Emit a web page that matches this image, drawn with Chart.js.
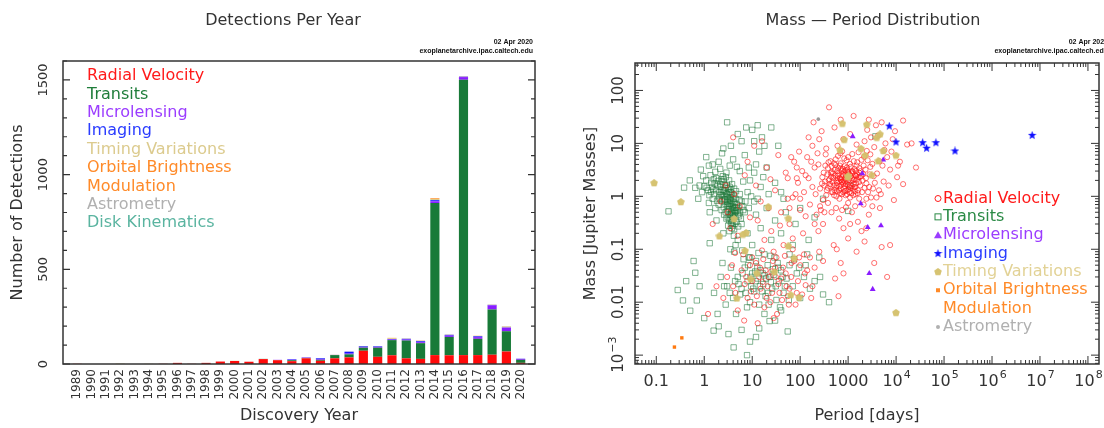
<!DOCTYPE html>
<html>
<head>
<meta charset="utf-8">
<script src="https://cdn.jsdelivr.net/npm/chart.js@4"></script>
<style>
  body { margin: 0; background: #fff; }
  .box { position: absolute; top: 0; width: 552px; height: 428px; }
  .box--left { left: 0; }
  .box--right { left: 552px; }
</style>
</head>
<body>
<div class="box box--left"><canvas id="yearChart" width="552" height="428"></canvas></div>
<div class="box box--right"><canvas id="massChart" width="552" height="428"></canvas></div>
<script>
// detections per year
const years = [1989,1990,1991,1992,1993,1994,1995,1996,1997,1998,1999,2000,2001,2002,2003,2004,
  2005,2006,2007,2008,2009,2010,2011,2012,2013,2014,2015,2016,2017,2018,2019,2020];
const radialVelocity = [1,0,0,0,0,0,1,6,1,6,13,16,12,26,20,15,30,17,30,35,70,38,46,30,27,47,46,47,47,49,66,6];
const transits = [0,0,0,0,0,0,0,0,0,0,0,0,0,1,1,5,2,5,17,16,16,48,80,94,83,803,97,1454,86,239,107,16];
const microlensing = [0,0,0,0,0,0,0,0,0,0,0,0,0,0,1,2,2,4,1,4,3,4,3,5,5,9,7,14,9,22,19,5];
const imaging = [0,0,0,0,0,0,0,0,0,0,0,0,0,0,0,3,1,4,0,10,4,3,3,4,5,6,4,2,4,2,1,1];
const timingVariations = [0,0,0,2,0,1,0,0,0,0,0,1,0,0,0,0,0,0,1,1,2,1,4,2,2,6,2,1,2,2,3,0];
const orbitalBrightness = [0,0,0,0,0,0,0,0,0,0,0,0,0,0,0,0,0,0,0,0,0,0,2,0,1,4,0,1,1,0,1,0];
const astrometry = [0,0,0,0,0,0,0,0,0,0,0,0,0,0,0,0,0,0,0,0,0,0,0,0,1,0,0,0,0,0,1,0];
const diskKinematics = [0,0,0,0,0,0,0,0,0,0,0,0,0,0,0,0,0,0,0,0,0,0,0,0,0,0,0,0,0,0,1,0];
const countTicks = [0, 500, 1000, 1500];

// mass - period, [period days, mass Mjup]
const rvPoints = [
  [320,1.6],[410,2.1],[520,1.3],[640,2.6],[760,1.9],[880,3.1],[1050,1.5],[1200,2.2],[1420,1.1],[1700,2.8],
  [380,3.4],[450,1.2],[590,1.8],[700,4.2],[820,1.4],[960,2.4],[1130,3.6],[1300,1.7],[1600,1.3],[2000,2.0],
  [290,2.3],[350,1.05],[480,2.7],[550,5.0],[680,1.15],[730,3.0],[900,1.7],[1000,5.5],[1250,2.9],[1550,4.4],
  [260,1.4],[430,4.6],[600,2.2],[790,2.5],[870,1.25],[1150,1.95],[1350,3.3],[1800,1.6],[2300,3.2],[2600,1.2],
  [340,6.2],[500,1.6],[620,3.4],[750,7.1],[980,2.9],[1100,0.95],[1480,2.4],[1900,4.9],[2200,1.45],[650,1.55],
  [395,2.0],[460,2.9],[570,1.0],[710,2.05],[840,3.7],[1020,1.35],[1220,6.3],[1700,0.9],[2800,2.6],[3200,4.1],
  [300,0.85],[420,1.7],[540,3.9],[660,0.9],[800,1.75],[930,4.8],[1380,1.25],[1650,6.8],[2450,7.2],[3600,1.8],
  [240,4.0],[370,2.6],[610,2.45],[690,6.5],[1080,2.6],[1280,1.05],[1520,2.05],[2050,2.65],[3000,0.95],[470,1.9],
  [330,1.9],[440,2.35],[560,1.45],[720,1.65],[850,2.15],[950,1.1],[1180,1.55],[1450,3.0],[1750,2.3],[2150,5.6],
  [310,2.8],[360,1.3],[390,4.4],[425,1.55],[455,3.7],[490,2.2],[510,1.05],[530,3.2],[565,2.0],[585,1.25],
  [615,5.8],[635,1.9],[670,3.8],[695,1.4],[725,2.3],[745,1.1],[775,3.3],[810,2.0],[830,5.2],[860,1.55],
  [890,2.6],[920,1.3],[945,3.5],[970,1.9],[1010,2.8],[1060,1.2],[1090,4.1],[1140,2.4],[1170,1.15],[1210,3.0],
  [1260,2.0],[1310,4.6],[1360,1.5],[1400,2.5],[1460,1.75],[1500,3.8],[1580,1.15],[1630,2.3],[1720,3.4],[1850,2.4],
  [1950,1.2],[2100,3.8],[2350,2.2],[2550,4.8],[2750,1.5],[285,1.75],[335,3.8],[375,1.45],[435,2.75],[475,1.2],
  [505,4.2],[545,2.45],[575,1.6],[605,3.0],[645,1.3],[675,2.2],[705,3.3],[735,1.85],[765,2.6],[795,1.2],
  [825,2.9],[855,1.9],[885,1.05],[915,2.2],[965,3.2],[995,1.65],[1040,2.05],[1120,1.45],[1190,2.7],[1240,1.4],
  [1330,2.1],[1410,1.5],[1560,2.6],[1680,1.85],[1820,3.0],[2400,1.75],[2900,3.6],[3400,2.4],[4400,1.3],[5500,1.9],
  [400,48],[520,20],[250,12],[1100,15],[2200,11],[3500,8.5],[4200,14],[6000,10],[8000,7],[9500,17],
  [180,9],[140,5.5],[110,3],[90,1.8],[160,0.7],[220,0.45],[300,0.3],[450,0.5],[650,0.38],[900,0.62],
  [1200,0.5],[1600,0.33],[2100,0.7],[2700,0.45],[3300,1.4],[4000,2.7],[5200,3.8],[7000,1.6],[4600,0.6],[6500,5.5],
  [12000,4.5],[3800,22],[2500,18],[1500,9.5],[800,12],[600,9],[350,8],[200,3.5],[120,1.2],[75,4.5],
  [70,0.95],[55,2.2],[1900,0.22],[800,0.25],[3000,13],[5000,25],[7500,3.2],[10500,2.3],[14000,27],[17000,9.5],
  [21000,10],[26000,3.5],[11000,3.8],[14000,1.7],[9000,0.85],[280,17],[700,28],[1300,33],[2700,28],[190,25],
  [8500,12],[5700,7.5],[4500,4.6],[3900,0.95],[2900,6.2],[150,13],[95,7],[60,0.6],[130,0.42],[240,0.22],
  [150,2.2],[170,4.5],[210,1.1],[230,6.5],[260,0.65],[180,1.5],[130,2.5],[100,0.9],[85,3.5],[200,0.3],
  [270,0.55],[320,0.5],[380,0.75],[560,0.6],[750,0.55],[1000,0.75],[1400,0.65],[2400,0.9],[3200,0.65],[4800,1.1],
  [3.1,0.5],[4.2,1.1],[3.5,0.25],[5.5,0.65],[7,2.5],[9,0.4],[12,1.6],[15,0.8],[20,3.5],[25,0.22],
  [30,1.3],[40,0.5],[50,2.8],[45,0.12],[60,0.3],[35,6],[18,0.15],[28,0.09],[10,0.07],[70,0.16],
  [2.2,0.8],[1.5,0.3],[2.8,1.6],[5,0.18],[6.5,0.08],[8,4.5],[11,9],[4,13],[16,11],[24,2.1],
  [80,1.1],[100,0.55],[115,0.2],[38,0.28],[55,0.9],[13,0.35],[22,0.6],[65,5.5],[85,2.2],[32,0.07],
  [3,0.03],[4.5,0.015],[6,0.04],[8,0.012],[10,0.025],[12,0.055],[15,0.018],[18,0.008],[22,0.03],[26,0.015],
  [30,0.045],[35,0.022],[42,0.011],[50,0.035],[60,0.018],[75,0.06],[90,0.025],[110,0.014],[140,0.04],[180,0.02],
  [5,0.007],[7,0.022],[9,0.05],[11,0.009],[14,0.03],[17,0.065],[20,0.012],[25,0.038],[33,0.006],[40,0.028],
  [48,0.075],[55,0.013],[65,0.03],[80,0.009],[100,0.05],[130,0.021],[160,0.07],[200,0.045],[250,0.09],[2.5,0.012],
  [3.8,0.05],[1.8,0.02],[1.2,0.006],[6.8,0.0045],[13,0.004],[28,0.005],[4.4,0.085],[16,0.095],[70,0.1],[120,0.08],
  [7.5,0.03],[9.5,0.016],[12.5,0.013],[14.5,0.045],[16.5,0.024],[19,0.04],[21,0.02],[24,0.01],[27,0.06],[31,0.03],
  [37,0.015],[44,0.045],[52,0.02],[58,0.009],[66,0.055],[85,0.015],[95,0.07],[125,0.035],[170,0.012],[4,0.02],
  [300,0.06],[500,0.12],[700,0.055],[1000,0.16],[1500,0.09],[2200,0.14],[3500,0.055],[5000,0.11],[6500,0.03],[800,0.035],
  [580,0.1],[7500,0.12],[535,0.028],[630,0.013],[1100,0.3],[2400,0.25]
];
const transitPoints = [
  [2.5,1.0],[3.0,0.8],[3.5,1.2],[4.0,0.6],[2.2,1.5],[2.8,0.5],[3.3,2.0],[4.5,0.9],[5.0,0.45],[3.8,1.7],
  [2.0,0.7],[2.6,1.3],[3.1,0.4],[3.6,0.95],[4.2,1.4],[1.6,1.1],[1.8,2.2],[2.3,0.55],[2.9,2.8],[5.5,1.1],
  [3.2,0.65],[3.7,0.5],[4.8,0.7],[2.4,1.9],[2.1,1.2],[3.4,1.5],[4.1,1.05],[1.4,1.8],[1.5,0.9],[2.7,0.85],
  [3.9,0.35],[4.4,0.48],[5.2,0.6],[6.0,0.8],[1.2,1.3],[1.35,2.5],[1.9,1.6],[2.05,0.95],[3.05,1.1],[3.55,0.72],
  [4.6,1.25],[5.8,0.38],[6.5,0.55],[3.15,0.28],[3.75,0.25],[4.3,0.3],[2.55,0.62],[2.95,1.65],[1.7,2.9],[2.15,3.3],
  [1.1,2.0],[1.0,1.55],[0.9,1.2],[0.95,2.4],[1.25,0.75],[3.45,0.85],[3.65,1.35],[4.05,0.78],[2.35,1.05],[2.75,1.45],
  [3.25,0.58],[3.85,0.42],[4.7,0.33],[5.4,0.85],[2.45,2.4],[1.55,1.35],[1.85,0.82],[3.35,0.22],[4.15,0.18],[5.1,0.27],
  [2.52,1.22],[2.62,0.88],[2.88,1.12],[3.02,0.68],[3.12,1.42],[3.22,0.92],[3.28,1.22],[3.38,0.72],[3.48,1.05],[3.58,0.58],
  [3.68,0.82],[3.78,1.12],[3.92,0.66],[4.02,0.9],[4.22,0.55],[4.32,0.75],[4.52,0.62],[2.32,0.82],[2.42,1.32],[2.12,0.88],
  [2.22,1.08],[2.68,1.62],[2.78,0.72],[2.98,0.98],[3.08,0.52],[3.18,0.78],[3.42,0.45],[3.52,0.38],[3.62,0.45],[3.72,0.32],
  [3.82,0.55],[3.95,0.48],[4.08,0.4],[4.25,0.42],[4.38,0.62],[4.55,0.52],[4.85,0.55],[5.3,0.42],[1.75,1.3],[1.95,1.95],
  [2.18,1.7],[2.28,2.1],[2.58,2.1],[2.82,2.3],[1.45,1.5],[1.65,1.75],[1.28,1.05],[1.12,1.45],[1.38,1.22],[1.58,2.1],
  [3.3,0.35],[3.6,0.3],[3.9,0.28],[4.2,0.24],[2.9,0.38],[2.6,0.45],[5.6,0.5],[6.2,0.65],[7.2,0.8],[8.5,0.6],
  [3.0,25],[2.5,8],[4,5],[5.5,3],[7,6],[9,2],[12,4],[15,1.5],[18,9],[25,20],
  [10,18],[6,11],[8,1.2],[11,2.8],[20,3.5],[30,1.8],[14,7],[2,4.5],[1.5,4],[0.8,1.6],
  [0.65,1.45],[0.5,2],[1.1,5.5],[35,9],[40,1.2],[22,1.1],[16,13],[7.5,20],[4.8,3.6],[6.5,1.9],
  [9.5,1.0],[13,0.9],[17,2.3],[5,15],[3.6,9],[0.18,0.52],[0.38,1.46],
  [1.3,0.5],[1.7,0.6],[0.75,0.9],[0.85,3.2],[1.25,3.8],[2.35,6.5],[3.4,3.8],[8.5,3.5],[11,11],[13,22],
  [5,0.15],[6,0.3],[7,0.5],[8,0.2],[10,0.12],[12,0.45],[15,0.25],[20,0.6],[25,0.15],[30,0.35],
  [40,0.2],[50,0.5],[60,0.08],[80,0.3],[100,0.6],[150,0.15],[200,0.4],[300,0.9],[18,0.08],[9,0.07],
  [3.5,0.1],[4.5,0.12],[2.5,0.2],[1.8,0.35],[1.3,0.13],[11,0.8],[45,0.9],[70,0.12],[130,0.05],[250,0.07],
  [3,0.02],[4,0.012],[5,0.03],[6,0.018],[7,0.045],[8,0.025],[9,0.01],[10,0.035],[11,0.016],[12,0.06],
  [13,0.028],[14,0.009],[15,0.04],[17,0.022],[19,0.013],[21,0.05],[23,0.03],[26,0.018],[29,0.07],[32,0.011],
  [36,0.025],[40,0.04],[45,0.015],[52,0.028],[60,0.05],[70,0.02],[85,0.035],[100,0.012],[120,0.03],[160,0.018],
  [2.2,0.03],[2.8,0.009],[3.6,0.045],[4.6,0.006],[5.6,0.014],[6.6,0.065],[7.8,0.008],[9.5,0.02],[11.5,0.038],[13.5,0.085],
  [16,0.016],[18,0.032],[22,0.009],[27,0.042],[34,0.055],[38,0.008],[48,0.02],[58,0.011],[75,0.065],[95,0.045],
  [5.2,0.022],[6.3,0.035],[7.3,0.015],[8.2,0.05],[9.2,0.03],[10.5,0.018],[11.8,0.025],[12.8,0.045],[14.5,0.02],[16.5,0.035],
  [19.5,0.028],[21.5,0.015],[24.5,0.024],[28,0.033],[31,0.02],[35,0.045],[43,0.03],[4.4,0.025],[3.4,0.015],[2.6,0.02],
  [1.6,0.015],[1.9,0.006],[2.4,0.055],[8.5,0.07],[24,0.075],[4.2,0.09],[6.2,0.095],[140,0.08],[200,0.025],[300,0.014],
  [0.28,0.017],[0.36,0.0108],[0.51,0.0069],[0.65,0.036],[0.7,0.0108],[1.57,0.0029],[4.1,0.0014],[7.8,0.001],[23,0.0044],[2,0.0035],
  [3.2,0.0025],[6,0.003],[12,0.0022],[18,0.006],[30,0.0045],[55,0.0028],[1,0.005],[0.8,0.02],[0.6,0.06],[0.42,0.025],
  [400,0.01],[260,0.03],[9,0.0018],[14,0.0032],[40,0.007],[1100,1.6],[3700,13.6],[1000,0.53]
];
const microPoints = [[1245,13.5],[5400,4.9],[1970,2.7],[1830,0.73],[2560,0.26],[4840,0.28],[2760,0.035],[3250,0.0176]];
const imagingPoints = [[7210,21.2],[9950,10.6],[35800,10.3],[43300,8.1],[67700,10.3],[168600,7.2],[6870000,14.2]];
const timingPoints = [
  [0.09,1.78],[0.325,0.78],[4.19,0.373],[2.07,0.176],[6.36,0.189],[7.46,0.203],[21.7,0.63],[56.7,0.38],
  [757,23.5],[832,11.7],[677,7.4],[980,2.31],[7.1,0.093],[56.7,0.114],[74.6,0.067],[12.5,0.035],
  [9.3,0.027],[29,0.037],[4.77,0.0118],[63.6,0.0136],[94.8,0.0122],[2440,22.5],[4620,14.8],[1855,7.9],
  [5400,7.2],[9940,5.9],[4250,4.6],[2250,5.9],[1010,2.4],[3100,2.5],[3940,12.8],[9940,0.0063]
];
const brightnessPoints = [[0.341,0.00212],[0.239,0.00142]];
const astrometryPoints = [[239,28.7]];
const periodDecades = [-1,0,1,2,3,4,5,6,7,8];
const massDecades = [2,1,0,-1,-2,-3];

const ink = '#333';
const font = 'DejaVu Sans';

function shapeCanvas(kind, size, color) {
  const c = document.createElement('canvas');
  c.width = size; c.height = size;
  const g = c.getContext('2d');
  const r = size / 2;
  const n = kind === 'star' ? 10 : 5;
  g.fillStyle = color;
  g.beginPath();
  for (let i = 0; i < n; i++) {
    const a = -Math.PI / 2 + i * 2 * Math.PI / n;
    const rr = kind === 'star' && i % 2 ? r * 0.42 : r;
    g.lineTo(r + rr * Math.cos(a), r + rr * Math.sin(a));
  }
  g.closePath();
  g.fill();
  return c;
}

const starIcon = shapeCanvas('star', 9, '#1010ff');
const pentaIcon = shapeCanvas('penta', 8, 'rgba(212,192,105,0.95)');

function rotText(ctx, txt, x, y, align) {
  ctx.save();
  ctx.translate(x, y);
  ctx.rotate(-Math.PI / 2);
  ctx.textAlign = align || 'center';
  ctx.fillText(txt, 0, 0);
  ctx.restore();
}

function stampText(ctx, right) {
  ctx.fillStyle = '#111';
  ctx.font = 'bold 7px Liberation Sans';
  ctx.textAlign = 'right';
  ctx.textBaseline = 'middle';
  ctx.fillText('02 Apr 2020', right, 42);
  ctx.fillText('exoplanetarchive.ipac.caltech.edu', right, 51);
}

// left chart: stacked bars
const barSets = [
  ['Radial Velocity', radialVelocity, '#ff0a0a', '#ff1a1a'],
  ['Transits', transits, '#187a38', '#1f7d3a'],
  ['Microlensing', microlensing, '#8a1cff', '#9b3cff'],
  ['Imaging', imaging, '#1414ff', '#2a3cff'],
  ['Timing Variations', timingVariations, '#d8c785', '#dccb8e'],
  ['Orbital Brightness', orbitalBrightness, '#ff8a1e', '#ff8a28'],
  ['Modulation', null, null, '#ff8a28'],
  ['Astrometry', astrometry, '#b4b4b4', '#b0b0b0'],
  ['Disk Kinematics', diskKinematics, '#55b49c', '#5ab4a0'],
];

const yearFrame = {
  id: 'yearFrame',
  afterDraw(chart) {
    const ctx = chart.ctx;
    const a = chart.chartArea;
    const ys = chart.scales.y;
    const xs = chart.scales.x;
    ctx.save();
    ctx.strokeStyle = ink;
    ctx.lineWidth = 1.5;
    ctx.strokeRect(a.left, a.top, a.right - a.left, a.bottom - a.top);
    ctx.lineWidth = 1.2;
    for (let v = 0; v <= 1600; v += 100) {
      const y = ys.getPixelForValue(v);
      const len = v % 500 === 0 ? 7 : 4;
      ctx.beginPath();
      ctx.moveTo(a.left, y); ctx.lineTo(a.left + len, y);
      ctx.moveTo(a.right, y); ctx.lineTo(a.right - len, y);
      ctx.stroke();
    }
    ctx.fillStyle = ink;
    ctx.textBaseline = 'middle';
    ctx.font = '13px ' + font;
    countTicks.forEach(v => rotText(ctx, String(v), 44, ys.getPixelForValue(v)));
    ctx.font = '12px ' + font;
    years.forEach(yr => rotText(ctx, String(yr), xs.getPixelForValue(yr), 369, 'right'));
    ctx.font = '16px ' + font;
    rotText(ctx, 'Number of Detections', 18, (a.top + a.bottom) / 2);
    ctx.textAlign = 'center';
    ctx.fillText('Discovery Year', (a.left + a.right) / 2, 416);
    ctx.font = '16px ' + font;
    ctx.fillText('Detections Per Year', 283, 21);
    // legend text
    ctx.font = '16px ' + font;
    ctx.textAlign = 'left';
    barSets.forEach((s, i) => {
      ctx.fillStyle = s[3];
      ctx.fillText(s[0], 87, 76 + i * 18.4);
    });
    stampText(ctx, 533);
    ctx.restore();
  }
};

const yearData = {
  datasets: barSets.filter(s => s[1]).map(s => ({
    label: s[0],
    data: years.map((yr, i) => ({ x: yr, y: s[1][i] })),
    backgroundColor: s[2],
    borderWidth: 0,
    categoryPercentage: 1,
    barPercentage: 0.64,
  }))
};

const yearChart = new Chart(document.getElementById('yearChart'), {
  type: 'bar',
  data: yearData,
  options: {
    responsive: false,
    animation: false,
    layout: { padding: { left: 63, top: 61, right: 17, bottom: 64 } },
    plugins: { legend: { display: false }, tooltip: { enabled: false } },
    scales: {
      x: { type: 'linear', min: 1988, max: 2021, offset: false, stacked: true, display: false },
      y: { min: 0, max: 1600, stacked: true, display: false },
    }
  },
  plugins: [yearFrame]
});

// right chart: mass vs period scatter
function drawPow(ctx, base, exp, x, y, size) {
  ctx.font = size + 'px ' + font;
  const w1 = ctx.measureText(base).width;
  ctx.font = Math.round(size * 0.7) + 'px ' + font;
  const w2 = ctx.measureText(exp).width;
  const x0 = x - (w1 + w2) / 2;
  ctx.textAlign = 'left';
  ctx.font = size + 'px ' + font;
  ctx.fillText(base, x0, y);
  ctx.font = Math.round(size * 0.7) + 'px ' + font;
  ctx.fillText(exp, x0 + w1 + 1, y - size * 0.42);
}

const massLegend = [
  ['Radial Velocity', '#ff1a1a', 'circle'],
  ['Transits', '#2a8a45', 'square'],
  ['Microlensing', '#9b3cff', 'tri'],
  ['Imaging', '#2a3cff', 'star'],
  ['Timing Variations', '#e2d296', 'penta'],
  ['Orbital Brightness', '#ff8a28', 'box'],
  ['Modulation', '#ff8a28', null],
  ['Astrometry', '#b0b0b0', 'dot'],
];

const massFrame = {
  id: 'massFrame',
  afterDraw(chart) {
    const ctx = chart.ctx;
    const a = chart.chartArea;
    const xs = chart.scales.x;
    const ys = chart.scales.y;
    ctx.save();
    ctx.strokeStyle = ink;
    ctx.lineWidth = 1.5;
    ctx.strokeRect(a.left, a.top, a.right - a.left, a.bottom - a.top);
    ctx.lineWidth = 1;
    for (let d = -2; d <= 8; d++) {
      for (let k = 1; k <= 9; k++) {
        const v = k * Math.pow(10, d);
        const x = xs.getPixelForValue(v);
        if (x < a.left || x > a.right) continue;
        const len = k === 1 ? 8 : 4;
        ctx.beginPath();
        ctx.moveTo(x, a.bottom); ctx.lineTo(x, a.bottom - len);
        ctx.moveTo(x, a.top); ctx.lineTo(x, a.top + len);
        ctx.stroke();
      }
    }
    for (let d = -4; d <= 2; d++) {
      for (let k = 1; k <= 9; k++) {
        const v = k * Math.pow(10, d);
        const y = ys.getPixelForValue(v);
        if (y < a.top || y > a.bottom) continue;
        const len = k === 1 ? 8 : 4;
        ctx.beginPath();
        ctx.moveTo(a.left, y); ctx.lineTo(a.left + len, y);
        ctx.moveTo(a.right, y); ctx.lineTo(a.right - len, y);
        ctx.stroke();
      }
    }
    ctx.fillStyle = ink;
    ctx.textBaseline = 'middle';
    periodDecades.forEach(d => {
      const x = xs.getPixelForValue(Math.pow(10, d));
      if (d <= 3) {
        ctx.font = '16px ' + font;
        ctx.textAlign = 'center';
        ctx.fillText(d === -1 ? '0.1' : String(Math.pow(10, d)), x, 382);
      } else {
        drawPow(ctx, '10', String(d), x, 382, 16);
      }
    });
    massDecades.forEach(d => {
      const y = ys.getPixelForValue(Math.pow(10, d));
      ctx.save();
      ctx.translate(67, y);
      ctx.rotate(-Math.PI / 2);
      if (d >= -2) {
        ctx.font = '15px ' + font;
        ctx.textAlign = 'center';
        ctx.fillText(d >= 0 ? String(Math.pow(10, d)) : (d === -1 ? '0.1' : '0.01'), 0, 0);
      } else {
        drawPow(ctx, '10', '\u22123', 0, 0, 15);
      }
      ctx.restore();
    });
    ctx.font = '16px ' + font;
    ctx.textAlign = 'center';
    ctx.fillText('Period [days]', (a.left + a.right) / 2, 416);
    rotText(ctx, 'Mass [Jupiter Masses]', 39, (a.top + a.bottom) / 2);
    ctx.font = '16px ' + font;
    ctx.fillText('Mass \u2014 Period Distribution', 321, 21);
    // legend
    ctx.font = '16px ' + font;
    ctx.textAlign = 'left';
    massLegend.forEach((s, i) => {
      const y = 198.5 + i * 18.35;
      const mx = 386;
      ctx.fillStyle = s[1];
      ctx.strokeStyle = s[1];
      ctx.lineWidth = 1;
      if (s[2] === 'circle') { ctx.beginPath(); ctx.arc(mx, y, 3, 0, 2 * Math.PI); ctx.stroke(); }
      if (s[2] === 'square') ctx.strokeRect(mx - 3, y - 3, 6, 6);
      if (s[2] === 'tri') { ctx.beginPath(); ctx.moveTo(mx, y - 4); ctx.lineTo(mx + 4, y + 3); ctx.lineTo(mx - 4, y + 3); ctx.fill(); }
      if (s[2] === 'star') ctx.drawImage(starIcon, mx - 4.5, y - 4.5);
      if (s[2] === 'penta') ctx.drawImage(pentaIcon, mx - 4, y - 4);
      if (s[2] === 'box') ctx.fillRect(mx - 2, y - 2, 4, 4);
      if (s[2] === 'dot') { ctx.beginPath(); ctx.arc(mx, y, 2, 0, 2 * Math.PI); ctx.fill(); }
      ctx.fillText(s[0], 391, y);
    });
    stampText(ctx, 556);
    ctx.restore();
  }
};

const toXY = list => list.map(p => ({ x: p[0], y: p[1] }));

const massData = {
  datasets: [
    { label: 'Astrometry', data: toXY(astrometryPoints), pointStyle: 'circle', pointRadius: 1.8,
      backgroundColor: '#999', borderWidth: 0 },
    { label: 'Orbital Brightness Modulation', data: toXY(brightnessPoints), pointStyle: 'rect', pointRadius: 2.4,
      backgroundColor: '#ff7a10', borderWidth: 0 },
    { label: 'Timing Variations', data: toXY(timingPoints), pointStyle: pentaIcon },
    { label: 'Imaging', data: toXY(imagingPoints), pointStyle: starIcon },
    { label: 'Microlensing', data: toXY(microPoints), pointStyle: 'triangle', pointRadius: 3.4,
      backgroundColor: '#8a1cff', borderWidth: 0 },
    { label: 'Radial Velocity', data: toXY(rvPoints), pointStyle: 'circle', pointRadius: 2.6,
      backgroundColor: 'rgba(0,0,0,0)', borderColor: 'rgba(255,20,20,0.6)', borderWidth: 1 },
    { label: 'Transits', data: toXY(transitPoints), pointStyle: 'rect', pointRadius: 3.8,
      backgroundColor: 'rgba(0,0,0,0)', borderColor: 'rgba(30,118,56,0.55)', borderWidth: 1 },
  ]
};

const massChart = new Chart(document.getElementById('massChart'), {
  type: 'scatter',
  data: massData,
  options: {
    responsive: false,
    animation: false,
    layout: { padding: { left: 83, top: 63, right: 1, bottom: 64 } },
    plugins: { legend: { display: false }, tooltip: { enabled: false } },
    scales: {
      x: { type: 'logarithmic', min: 0.036, max: 1.7e8, bounds: 'data', display: false },
      y: { type: 'logarithmic', min: 6.8e-4, max: 330, bounds: 'data', display: false },
    }
  },
  plugins: [massFrame]
});
</script>
</body>
</html>
